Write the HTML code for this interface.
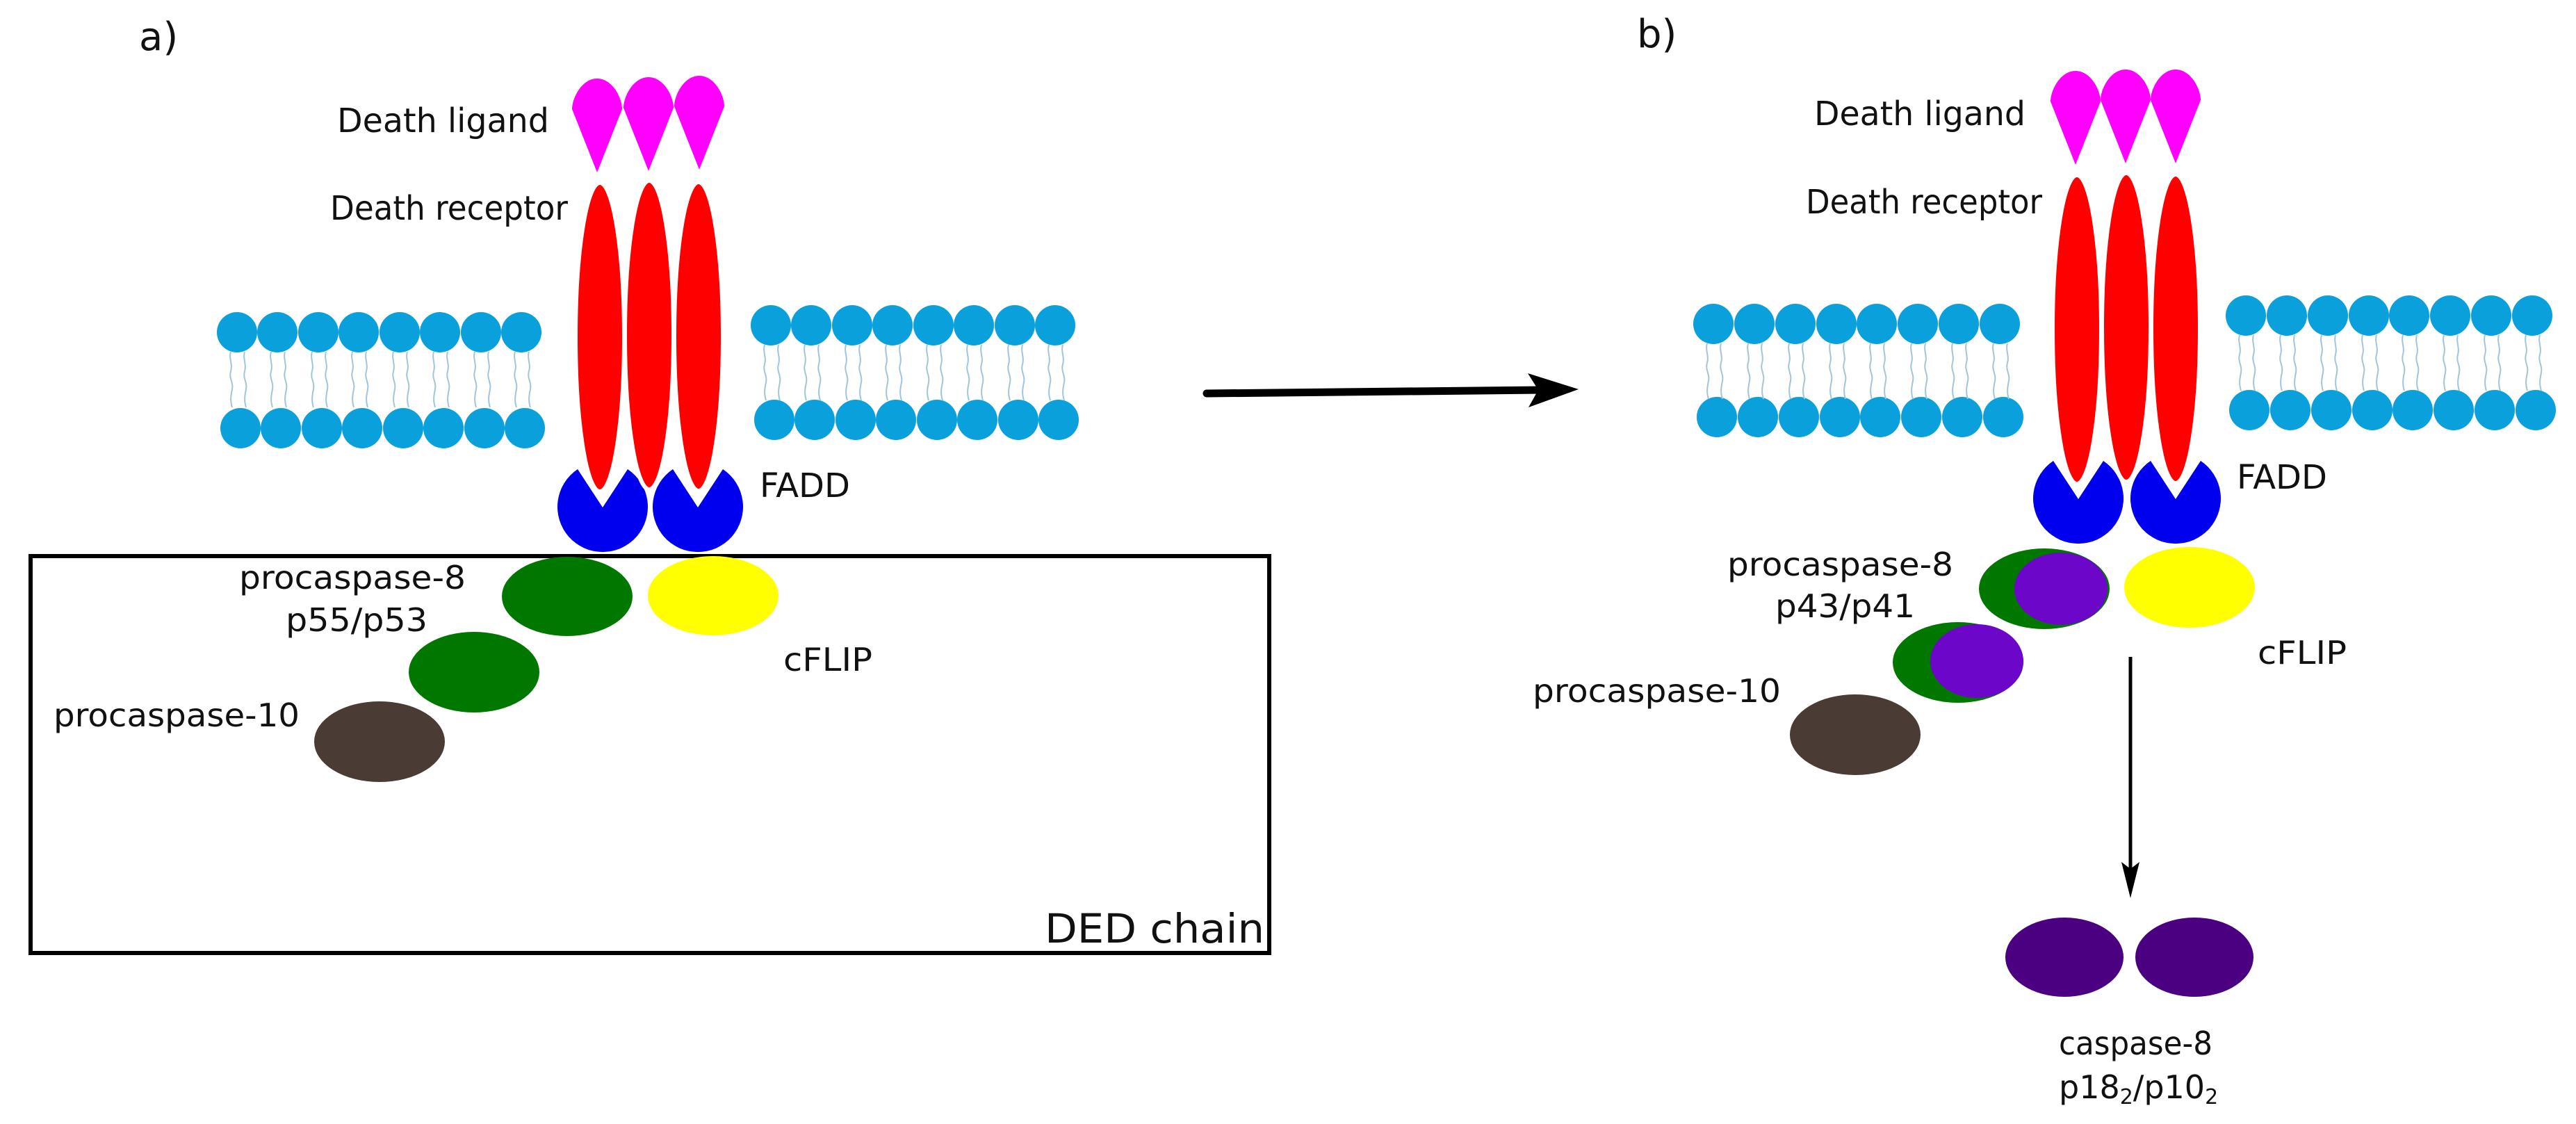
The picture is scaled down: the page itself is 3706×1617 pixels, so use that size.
<!DOCTYPE html>
<html><head><meta charset="utf-8"><style>
html,body{margin:0;padding:0;background:#fff;}
svg{display:block;}
text{font-family:"DejaVu Sans","Liberation Sans",sans-serif;fill:#111;}
</style></head><body>
<svg width="3706" height="1617" viewBox="0 0 3706 1617" xmlns="http://www.w3.org/2000/svg">
<defs>
<path id="tail" d="M0,0 c-3,10 3,18 0,28 c-3,10 4,16 2,26 c-2,10 -3,16 0,26" fill="none" stroke="#9fc6da" stroke-width="2"/>
<path id="lig" d="M0,0 C22,0 36,28 36,44 L0,135 L-36,44 C-36,28 -22,0 0,0 Z" fill="#ff00ff"/>
<path id="fadd" d="M0,0 L-36,-55 A65,65 0 1 0 36,-55 Z" fill="#0000ee"/>
</defs>

<!-- ================= PANEL A ================= -->
<text x="200" y="72" font-size="56">a)</text>

<g>
<g fill="#0aa0dc">
<circle cx="341" cy="478" r="29"/><circle cx="399" cy="478" r="29"/><circle cx="458" cy="478" r="29"/><circle cx="516" cy="478" r="29"/><circle cx="575" cy="478" r="29"/><circle cx="633" cy="478" r="29"/><circle cx="692" cy="478" r="29"/><circle cx="750" cy="478" r="29"/>
<circle cx="346" cy="616" r="29"/><circle cx="404" cy="616" r="29"/><circle cx="463" cy="616" r="29"/><circle cx="521" cy="616" r="29"/><circle cx="580" cy="616" r="29"/><circle cx="638" cy="616" r="29"/><circle cx="697" cy="616" r="29"/><circle cx="755" cy="616" r="29"/>
</g>
<g transform="translate(0,506)">
<use href="#tail" x="332"/><use href="#tail" x="352"/><use href="#tail" x="390"/><use href="#tail" x="410"/><use href="#tail" x="449"/><use href="#tail" x="469"/><use href="#tail" x="507"/><use href="#tail" x="527"/><use href="#tail" x="566"/><use href="#tail" x="586"/><use href="#tail" x="624"/><use href="#tail" x="644"/><use href="#tail" x="683"/><use href="#tail" x="703"/><use href="#tail" x="741"/><use href="#tail" x="761"/>
</g>
</g>
<g>
<g fill="#0aa0dc">
<circle cx="1109" cy="468" r="29"/><circle cx="1167" cy="468" r="29"/><circle cx="1226" cy="468" r="29"/><circle cx="1284" cy="468" r="29"/><circle cx="1343" cy="468" r="29"/><circle cx="1401" cy="468" r="29"/><circle cx="1460" cy="468" r="29"/><circle cx="1518" cy="468" r="29"/>
<circle cx="1114" cy="604" r="29"/><circle cx="1172" cy="604" r="29"/><circle cx="1231" cy="604" r="29"/><circle cx="1289" cy="604" r="29"/><circle cx="1348" cy="604" r="29"/><circle cx="1406" cy="604" r="29"/><circle cx="1465" cy="604" r="29"/><circle cx="1523" cy="604" r="29"/>
</g>
<g transform="translate(0,496)">
<use href="#tail" x="1100"/><use href="#tail" x="1120"/><use href="#tail" x="1158"/><use href="#tail" x="1178"/><use href="#tail" x="1217"/><use href="#tail" x="1237"/><use href="#tail" x="1275"/><use href="#tail" x="1295"/><use href="#tail" x="1334"/><use href="#tail" x="1354"/><use href="#tail" x="1392"/><use href="#tail" x="1412"/><use href="#tail" x="1451"/><use href="#tail" x="1471"/><use href="#tail" x="1509"/><use href="#tail" x="1529"/>
</g>
</g>

<use href="#lig" x="859" y="113"/><use href="#lig" x="933" y="111"/><use href="#lig" x="1006" y="109"/>
<text x="485" y="190" font-size="48" textLength="305" lengthAdjust="spacingAndGlyphs">Death ligand</text>
<text x="475" y="316" font-size="48" textLength="342" lengthAdjust="spacingAndGlyphs">Death receptor</text>

<use href="#fadd" x="867" y="730"/><use href="#fadd" x="1004" y="730"/>
<g fill="#ff0000" stroke="#fff" stroke-width="6">
<ellipse cx="863" cy="485" rx="35" ry="222"/>
<ellipse cx="934" cy="482" rx="35" ry="222"/>
<ellipse cx="1005" cy="484" rx="35" ry="222"/>
</g>
<text x="1093" y="715" font-size="48">FADD</text>

<rect x="44" y="800" width="1782" height="571" fill="none" stroke="#000" stroke-width="6"/>
<ellipse cx="816" cy="858" rx="94" ry="57" fill="#007800"/>
<ellipse cx="1026" cy="857" rx="94" ry="57" fill="#ffff00"/>
<ellipse cx="682" cy="967" rx="94" ry="58" fill="#007800"/>
<ellipse cx="546" cy="1067" rx="94" ry="58" fill="#4a3b35"/>
<text x="344" y="847" font-size="46" textLength="326" lengthAdjust="spacingAndGlyphs">procaspase-8</text>
<text x="411" y="908" font-size="46" textLength="204" lengthAdjust="spacingAndGlyphs">p55/p53</text>
<text x="77" y="1045" font-size="46" textLength="354" lengthAdjust="spacingAndGlyphs">procaspase-10</text>
<text x="1127" y="965" font-size="46" textLength="128" lengthAdjust="spacingAndGlyphs">cFLIP</text>
<text x="1503" y="1356" font-size="58" textLength="316" lengthAdjust="spacingAndGlyphs">DED chain</text>

<line x1="1736" y1="566" x2="2220" y2="561" stroke="#000" stroke-width="11" stroke-linecap="round"/>
<path d="M2271,560 L2198,537 L2213,561 L2199,586 Z" fill="#000"/>

<!-- ================= PANEL B ================= -->
<text x="2355" y="68" font-size="56">b)</text>

<g>
<g fill="#0aa0dc">
<circle cx="2465" cy="466" r="29"/><circle cx="2524" cy="466" r="29"/><circle cx="2583" cy="466" r="29"/><circle cx="2642" cy="466" r="29"/><circle cx="2700" cy="466" r="29"/><circle cx="2759" cy="466" r="29"/><circle cx="2818" cy="466" r="29"/><circle cx="2877" cy="466" r="29"/>
<circle cx="2470" cy="600" r="29"/><circle cx="2529" cy="600" r="29"/><circle cx="2588" cy="600" r="29"/><circle cx="2647" cy="600" r="29"/><circle cx="2705" cy="600" r="29"/><circle cx="2764" cy="600" r="29"/><circle cx="2823" cy="600" r="29"/><circle cx="2882" cy="600" r="29"/>
</g>
<g transform="translate(0,494)">
<use href="#tail" x="2456"/><use href="#tail" x="2476"/><use href="#tail" x="2515"/><use href="#tail" x="2535"/><use href="#tail" x="2574"/><use href="#tail" x="2594"/><use href="#tail" x="2633"/><use href="#tail" x="2653"/><use href="#tail" x="2691"/><use href="#tail" x="2711"/><use href="#tail" x="2750"/><use href="#tail" x="2770"/><use href="#tail" x="2809"/><use href="#tail" x="2829"/><use href="#tail" x="2868"/><use href="#tail" x="2888"/>
</g>
</g>
<g>
<g fill="#0aa0dc">
<circle cx="3231" cy="454" r="29"/><circle cx="3290" cy="454" r="29"/><circle cx="3349" cy="454" r="29"/><circle cx="3408" cy="454" r="29"/><circle cx="3466" cy="454" r="29"/><circle cx="3525" cy="454" r="29"/><circle cx="3584" cy="454" r="29"/><circle cx="3643" cy="454" r="29"/>
<circle cx="3236" cy="590" r="29"/><circle cx="3295" cy="590" r="29"/><circle cx="3354" cy="590" r="29"/><circle cx="3413" cy="590" r="29"/><circle cx="3471" cy="590" r="29"/><circle cx="3530" cy="590" r="29"/><circle cx="3589" cy="590" r="29"/><circle cx="3648" cy="590" r="29"/>
</g>
<g transform="translate(0,482)">
<use href="#tail" x="3222"/><use href="#tail" x="3242"/><use href="#tail" x="3281"/><use href="#tail" x="3301"/><use href="#tail" x="3340"/><use href="#tail" x="3360"/><use href="#tail" x="3399"/><use href="#tail" x="3419"/><use href="#tail" x="3457"/><use href="#tail" x="3477"/><use href="#tail" x="3516"/><use href="#tail" x="3536"/><use href="#tail" x="3575"/><use href="#tail" x="3595"/><use href="#tail" x="3634"/><use href="#tail" x="3654"/>
</g>
</g>

<use href="#lig" x="2986" y="102"/><use href="#lig" x="3058" y="100"/><use href="#lig" x="3130" y="100"/>
<text x="2610" y="180" font-size="48" textLength="304" lengthAdjust="spacingAndGlyphs">Death ligand</text>
<text x="2598" y="307" font-size="48" textLength="340" lengthAdjust="spacingAndGlyphs">Death receptor</text>

<use href="#fadd" x="2990" y="718"/><use href="#fadd" x="3130" y="718"/>
<g fill="#ff0000" stroke="#fff" stroke-width="6">
<ellipse cx="2988" cy="474" rx="35" ry="222"/>
<ellipse cx="3059" cy="471" rx="35" ry="222"/>
<ellipse cx="3130" cy="473" rx="35" ry="222"/>
</g>
<text x="3218" y="703" font-size="48">FADD</text>

<ellipse cx="2941" cy="847" rx="94" ry="58" fill="#007800"/>
<ellipse cx="2965" cy="847" rx="67" ry="52" fill="#6c06c8"/>
<ellipse cx="3150" cy="845" rx="94" ry="58" fill="#ffff00"/>
<ellipse cx="2817" cy="953" rx="94" ry="58" fill="#007800"/>
<ellipse cx="2844" cy="951" rx="67" ry="53" fill="#6c06c8"/>
<ellipse cx="2669" cy="1057" rx="94" ry="58" fill="#4a3b35"/>
<text x="2485" y="828" font-size="46" textLength="325" lengthAdjust="spacingAndGlyphs">procaspase-8</text>
<text x="2554" y="888" font-size="46" textLength="201" lengthAdjust="spacingAndGlyphs">p43/p41</text>
<text x="2205" y="1010" font-size="46" textLength="357" lengthAdjust="spacingAndGlyphs">procaspase-10</text>
<text x="3248" y="955" font-size="46" textLength="128" lengthAdjust="spacingAndGlyphs">cFLIP</text>

<line x1="3065" y1="945" x2="3065" y2="1250" stroke="#000" stroke-width="5"/>
<path d="M3065,1292 L3052,1240 L3065,1250 L3078,1240 Z" fill="#000"/>

<ellipse cx="2970" cy="1377" rx="85" ry="57" fill="#4b0082"/>
<ellipse cx="3157" cy="1377" rx="85" ry="57" fill="#4b0082"/>
<text x="2962" y="1517" font-size="46" textLength="221" lengthAdjust="spacingAndGlyphs">caspase-8</text>
<text x="2962" y="1580" font-size="46">p18<tspan font-size="30" dy="8">2</tspan><tspan dy="-8">/p10</tspan><tspan font-size="30" dy="8">2</tspan></text>
</svg>
</body></html>
